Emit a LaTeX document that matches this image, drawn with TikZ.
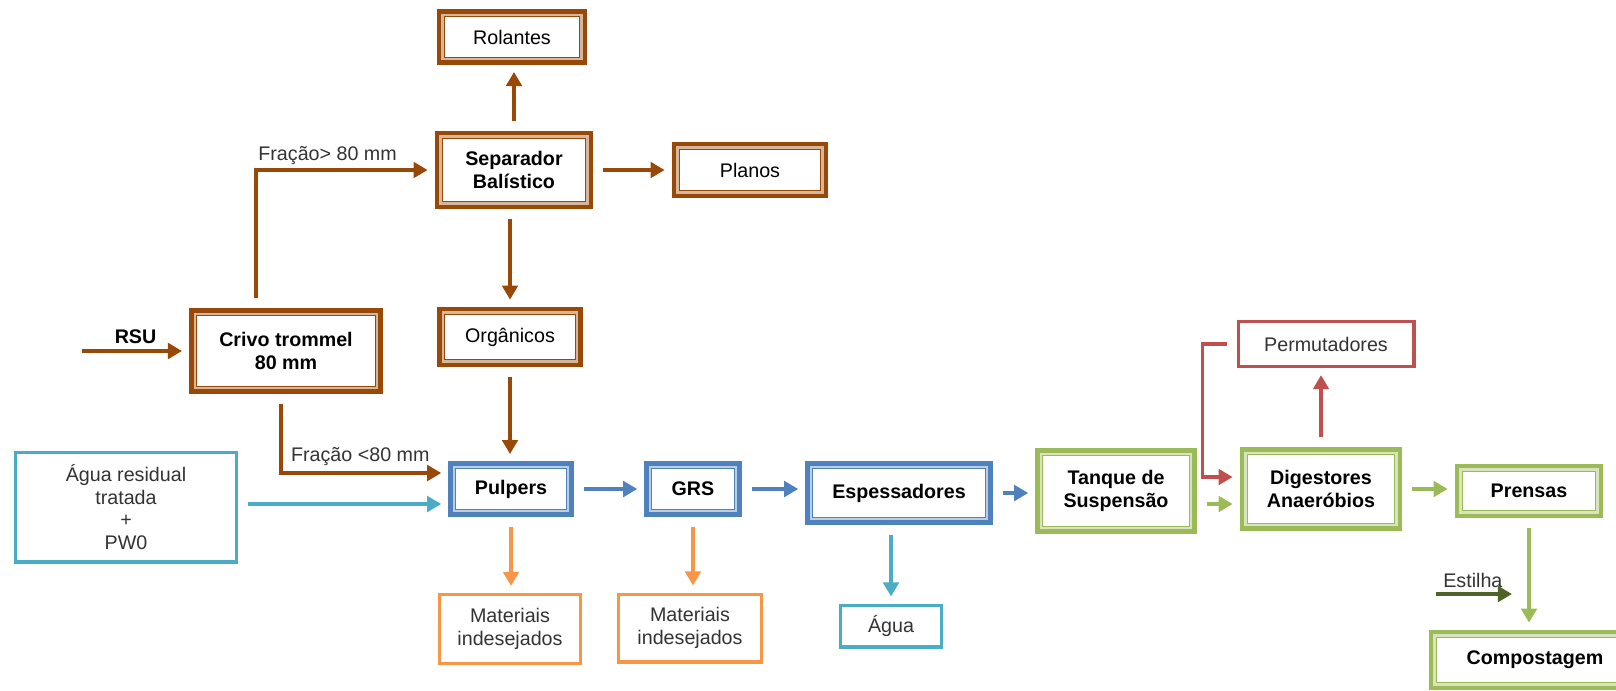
\documentclass[tikz,border=0pt]{standalone}
\usepackage{fontspec}
\setmainfont{Liberation Sans}
\usetikzlibrary{arrows.meta}

\definecolor{rsubrown}{HTML}{984807}
\definecolor{pulpblue}{HTML}{4F81BD}
\definecolor{watercyan}{HTML}{4BACC6}
\definecolor{rejorange}{HTML}{F79646}
\definecolor{diggreen}{HTML}{9BBB59}
\definecolor{permred}{HTML}{C0504D}
\definecolor{chipgreen}{HTML}{4F6228}

\newcommand{\regfont}{\fontsize{14}{16}\selectfont}
\newcommand{\boldfont}{\fontsize{14}{16}\selectfont\bfseries}

\tikzset{
  dbox/.style={draw=#1, line width=3.3pt, fill=#1!40, align=center, text=black,
    path picture={\draw[draw=#1, line width=0.7pt, fill=white]
      ([shift={(3.6pt,3.6pt)}]path picture bounding box.south west) rectangle
      ([shift={(-3.6pt,-3.6pt)}]path picture bounding box.north east);}},
  sbox/.style={draw=#1, line width=2.4pt, fill=white, align=center,
    font=\regfont, text=black!80},
  flow/.style={draw=#1, line width=2.8pt, -{Triangle[width=11pt,length=10pt]},
    shorten <=7pt, shorten >=5pt},
  lbl/.style={font=\regfont, text=black!80, inner sep=0pt},
}

\begin{document}
\begin{tikzpicture}[x=0.25mm, y=-0.25mm]
\useasboundingbox (0,0) rectangle (1616,690);

% brown part
\node[dbox=rsubrown, font=\regfont, minimum width=36.5mm, minimum height=12.8mm] (rol) at (512,37) {Rolantes};
\node[dbox=rsubrown, font=\boldfont, minimum width=38.5mm, minimum height=18.5mm] (sep) at (514,170) {Separador\\Balístico};
\node[dbox=rsubrown, font=\regfont, minimum width=38mm, minimum height=13mm] (plan) at (750,170) {Planos};
\node[dbox=rsubrown, font=\boldfont, minimum width=47.3mm, minimum height=20.2mm] (criv) at (286,351) {Crivo trommel\\80 mm};
\node[dbox=rsubrown, font=\regfont, minimum width=35.2mm, minimum height=14mm] (org) at (510,337) {Orgânicos};

% pulping line
\node[sbox=watercyan, minimum width=55.4mm, minimum height=27.4mm] (agua) at (126,507) {Água residual\\tratada\\+\\PW0};
\node[dbox=pulpblue, font=\boldfont, minimum width=30.2mm, minimum height=12.8mm] (pulp) at (511,489) {Pulpers};
\node[dbox=pulpblue, font=\boldfont, minimum width=23.2mm, minimum height=12.8mm] (grs) at (693,489) {GRS};
\node[dbox=pulpblue, font=\boldfont, minimum width=45.7mm, minimum height=14.8mm] (esp) at (899,493) {Espessadores};
\node[sbox=rejorange, minimum width=35.4mm, minimum height=17.2mm] (mat1) at (510,629) {Materiais\\indesejados};
\node[sbox=rejorange, minimum width=35.7mm, minimum height=16.9mm] (mat2) at (690,628) {Materiais\\indesejados};
\node[sbox=watercyan, minimum width=25.2mm, minimum height=10.4mm] (h2o) at (891,626) {Água};

% digestion
\node[dbox=diggreen, font=\boldfont, minimum width=39.2mm, minimum height=20.2mm] (tanq) at (1116,491) {Tanque de\\Suspensão};
\node[dbox=diggreen, font=\boldfont, minimum width=39.5mm, minimum height=19.7mm] (dig) at (1321,489) {Digestores\\Anaeróbios};
\node[dbox=diggreen, font=\boldfont, minimum width=36mm, minimum height=12.5mm] (pren) at (1529,491) {Prensas};
\node[sbox=permred, minimum width=43.9mm, minimum height=11.2mm] (perm) at (1326,344) {Permutadores};
\node[dbox=diggreen, font=\boldfont, minimum width=52mm, minimum height=14mm] (comp) at (1535,660) {Compostagem};

% free ends
\coordinate (rsu) at (82,351);
\coordinate (up) at ([xshift=-7.5mm]criv.north);
\coordinate (down) at ([xshift=-1.25mm]criv.south);
\coordinate (pin1) at ([yshift=4mm]pulp.west);
\coordinate (pin2) at ([yshift=-3.75mm]pulp.west);
\coordinate (din1) at ([yshift=3mm]dig.west);
\coordinate (din2) at ([yshift=-3.75mm]dig.west);
\coordinate (est) at (1436,594);

% connectors
\draw[flow=rsubrown, shorten <=0pt] (rsu) -- (criv.west)
  node[lbl, font=\boldfont, text=black, midway, anchor=base, yshift=5.5pt] (rsut) {RSU};
\draw[flow=rsubrown] (up) |- (sep.west);
\node[lbl, anchor=base west, xshift=1.5pt, yshift=7pt] (fr1) at (up |- sep.west) {Fração> 80 mm};
\draw[flow=rsubrown] (sep.north) -- (sep.north |- rol.south);
\draw[flow=rsubrown] (sep.east) -- (plan.west);
\draw[flow=rsubrown] (org.north |- sep.south) -- (org.north);
\draw[flow=rsubrown] (org.south) -- (org.south |- pulp.north);
\draw[flow=rsubrown] (down) |- (pin1);
\node[lbl, anchor=base west, xshift=7pt, yshift=8.5pt] (fr2) at (down |- pin1) {Fração <80 mm};
\draw[flow=watercyan] (agua.east |- pin2) -- (pin2);

\draw[flow=pulpblue] (pulp.east) -- (grs.west);
\draw[flow=pulpblue] (grs.east) -- (grs.east -| esp.west);
\draw[flow=pulpblue] (esp.east) -- (esp.east -| tanq.west);
\draw[flow=rejorange] (pulp.south) -- (pulp.south |- mat1.north);
\draw[flow=rejorange] (grs.south) -- (grs.south |- mat2.north);
\draw[flow=watercyan] (h2o.north |- esp.south) -- (h2o.north);

\draw[flow=diggreen] (tanq.east |- din2) -- (din2);
\draw[flow=permred] (perm.west) -- ++(-8.5mm,0) |- (din1);
\draw[flow=permred] (dig.north) -- (dig.north |- perm.south);
\draw[flow=diggreen] (dig.east) -- (dig.east -| pren.west);
\draw[flow=diggreen] (pren.south) -- (pren.south |- comp.north);
\draw[flow=chipgreen, line width=3.4pt, shorten <=0pt] (est) -- ([xshift=-2.5mm]est -| pren.south);
\node[lbl, anchor=base west, xshift=5pt, yshift=4.5pt] (estt) at (est) {Estilha};

\end{tikzpicture}
\end{document}
